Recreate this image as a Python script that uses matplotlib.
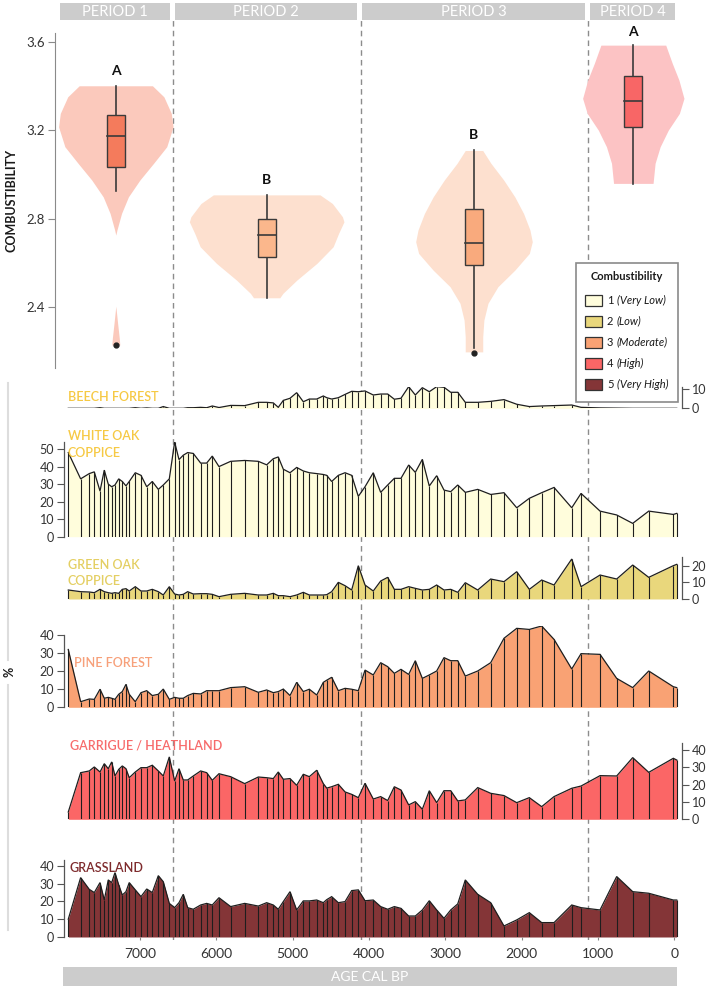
import matplotlib.pyplot as plt
from matplotlib.patches import Rectangle
import numpy as np

W, H = 709, 988
plt.rcParams['font.family'] = ['Lato', 'DejaVu Sans']

# sample ages (cal BP), shared by all pollen groups
ages = [7941, 7779, 7666, 7600, 7525, 7469, 7417, 7372, 7329, 7280, 7233, 7185, 7142, 7063,
        6988, 6913, 6840, 6761, 6696, 6617, 6547, 6490, 6434, 6376, 6303, 6206, 6127, 6054,
        5966, 5813, 5629, 5451, 5341, 5254, 5189, 5123, 5035, 4948, 4861, 4782, 4685, 4599,
        4554, 4489, 4402, 4314, 4227, 4140, 4052, 3944, 3847, 3755, 3668, 3581, 3480, 3393,
        3301, 3210, 3113, 3017, 2929, 2837, 2738, 2575, 2405, 2231, 2064, 1899, 1737, 1575,
        1343, 1221, 972, 754, 544, 334, 12, -33]

beech = [0, 0, 0, 0, 0.3, 0, 0, 0, 0, 0, 0, 0, 0, 0.3, 0, 0.2, 0, 0, 0.9, 0, 0, 0, 0, 0.3,
         0.3, 0.5, 0.3, 1.2, 0.4, 1.5, 1.4, 3.1, 3.1, 2.8, 0.5, 4.1, 5.2, 8.1, 3.4, 4.8, 4.8,
         6.4, 5.5, 4.8, 5.5, 7.2, 8.8, 8.6, 9.0, 6.9, 7.4, 7.4, 4.7, 5.2, 11.2, 6.9, 10.7, 8.6,
         11.2, 10.9, 8.3, 8.3, 3.1, 3.1, 3.6, 4.5, 2.1, 0.9, 1.2, 1.4, 1.7, 0.5, 0.2, 0.1, 0,
         0, 0, 0]

white_oak = [48, 33, 36, 37, 26, 38, 30, 28.5, 29.5, 33, 31.5, 29, 31.5, 36.5, 35, 28.5, 31.5,
             27, 29.5, 33, 54, 44, 46.5, 48, 47.5, 42, 42, 46, 40, 43, 43.5, 43, 41, 44.5, 45.5,
             38.5, 36.5, 39.5, 37.5, 36.5, 36, 35.5, 35, 31.5, 35, 36.5, 35, 23, 28.5, 36.5,
             25.3, 29.5, 33.3, 33.3, 40.9, 36.7, 44.1, 28.9, 34.8, 26.6, 25.7, 29.5, 25.3, 27,
             24.1, 25.1, 16.5, 21.9, 25.1, 28.1, 16.5, 24.7, 14.6, 12.4, 7.6, 14.6, 12.7, 13.3]

green_oak = [5.4, 4.4, 4.2, 3.8, 5.8, 4.4, 3.8, 3.4, 3.8, 3.4, 5.8, 6.2, 4.8, 7.4, 4.8, 4.8,
             5.8, 4.4, 2.4, 7.4, 3.0, 2.4, 2.8, 4.4, 3.0, 3.2, 3.2, 2.8, 1.4, 2.8, 3.4, 2.4, 2.4,
             3.4, 2.0, 2.0, 1.4, 2.4, 4.0, 2.4, 2.4, 2.4, 2.6, 4.4, 10, 8, 5.4, 20, 8.4, 4.8,
             10.8, 13, 5.8, 5.8, 7.4, 6.4, 5.4, 5.8, 8.4, 5.4, 5.8, 4.0, 9.8, 5.4, 12, 10.4, 16.4,
             5.8, 11.4, 8.4, 24, 7.4, 14.4, 12, 20.4, 13, 20, 20.8]

pine = [32, 3.1, 4.6, 4.4, 10, 5, 5.5, 5, 4.4, 7.2, 8.7, 12.7, 7.2, 3.1, 8.1, 9.2, 6.5, 7.2,
        10.1, 4.4, 5.5, 5, 5, 6.5, 7.7, 7.4, 9.2, 9.2, 9.2, 10.9, 11.4, 8.3, 9.6, 8.1, 8.7,
        10.1, 6.5, 13.8, 8.7, 10, 6.8, 13.8, 15, 16.6, 9.2, 10.5, 10, 9.2, 20.6, 17.9, 24.7,
        22.5, 18.8, 21, 18.2, 25.8, 16, 17.9, 20.1, 27.5, 25.8, 25.8, 17.3, 20.1, 24.7, 38.2,
        43.7, 43.1, 45, 37.6, 21.2, 29.7, 29.3, 16, 10.9, 20.1, 11.4, 10.9]

garrigue = [4.2, 26.9, 27.9, 30.2, 27.3, 32.1, 29.2, 33.1, 25, 28.8, 30.8, 29.2, 24, 27.3,
            29.8, 29.8, 31.2, 27.9, 25, 36, 22.1, 29.2, 22.7, 22.7, 25, 27.9, 26.9, 22.5, 26.3,
            24.6, 20.6, 24.4, 24, 23.5, 27.3, 23.1, 23.5, 19.6, 26, 24.6, 28.3, 20.6, 18, 18.8,
            20.2, 15.8, 14.4, 12.5, 20.8, 11.7, 13.1, 10.8, 18.8, 16.9, 8.3, 10.2, 5.8, 16.5,
            9.6, 16.5, 16.5, 10.6, 11.2, 18.3, 15, 13.7, 9.6, 12.5, 7.3, 13.1, 17.9, 19.2, 25.2,
            25, 35.6, 27.1, 35.2, 34.2]

grassland = [10, 33.4, 26.8, 25, 30.6, 20.8, 32.1, 30.6, 36.2, 29.3, 23.6, 25.5, 30.6, 26.5,
             22.7, 27, 25, 34.5, 31.1, 18.9, 16.5, 19.3, 24, 16.5, 15.6, 18, 18.9, 18, 22.1,
             17.1, 18.9, 17.4, 19.3, 18, 15.6, 19.9, 25.5, 15.2, 20.3, 20.3, 20.8, 19.3, 21,
             22.7, 19.3, 19.9, 26.1, 26.5, 20.4, 20.8, 17.1, 15.6, 17.1, 16.1, 11.8, 11.8, 15.2,
             20.4, 15.2, 10.5, 15.2, 18.6, 32.1, 24, 19.3, 6.2, 9.6, 13.7, 8.1, 8.1, 18, 16.5,
             15.2, 34, 25.5, 24.6, 20.8, 20.8]

period_names = ['PERIOD 1', 'PERIOD 2', 'PERIOD 3', 'PERIOD 4']
period_bounds = [6565, 4105, 1136]

# violin profiles: combustibility value and relative width
violin_centers = [7318, 5341, 2624, 536]
violin_letters = ['A', 'B', 'B', 'A']
letter_y = [3.47, 2.977, 3.177, 3.647]
v1_y = [3.402, 3.352, 3.277, 3.216, 3.126, 3.051, 2.975, 2.899, 2.824, 2.749, 2.726]
v1_w = [0.64, 0.84, 0.97, 1.0, 0.89, 0.66, 0.42, 0.22, 0.10, 0.02, 0.0]
v1b_y = [2.404, 2.33, 2.26, 2.228]
v1b_w = [0.0, 0.03, 0.06, 0.07]
v2_y = [2.908, 2.869, 2.809, 2.786, 2.733, 2.673, 2.598, 2.522, 2.462, 2.442]
v2_w = [0.69, 0.85, 0.98, 1.0, 0.93, 0.86, 0.65, 0.39, 0.21, 0.17]
v3_y = [3.109, 3.051, 2.975, 2.899, 2.824, 2.749, 2.696, 2.643, 2.567, 2.492, 2.417, 2.341,
        2.265, 2.197]
v3_w = [0.15, 0.29, 0.51, 0.70, 0.85, 0.96, 1.0, 0.95, 0.70, 0.41, 0.24, 0.17, 0.15, 0.15]
v4_y = [3.586, 3.503, 3.428, 3.345, 3.277, 3.201, 3.126, 3.051, 2.960]
v4_w = [0.64, 0.77, 0.90, 1.0, 0.91, 0.69, 0.53, 0.43, 0.39]

# q1, median, q3, whisker low, whisker high
box_stats = [(3.036, 3.174, 3.27, 2.924, 3.40),
             (2.628, 2.727, 2.80, 2.44, 2.908),
             (2.59, 2.692, 2.844, 2.215, 3.109),
             (3.215, 3.332, 3.447, 2.957, 3.586)]
outliers = [[2.226], [], [2.192], []]

legend_levels = ['1', '2', '3', '4', '5']
legend_names = ['(Very Low)', '(Low)', '(Moderate)', '(High)', '(Very High)']
legend_colors = ['#FFFDDC', '#E9D77C', '#F9A274', '#FB6666', '#843537']


def add_ax(x0, y0, x1, y1, **kw):
    return fig.add_axes([x0 / W, 1 - y1 / H, (x1 - x0) / W, (y1 - y0) / H], **kw)


fig = plt.figure(figsize=(W / 100, H / 100), dpi=100)

# dashed period boundaries, behind everything
dash_ax = add_ax(64, 20, 682, 940, zorder=0)
dash_ax.set_xlim(7997, -102)
dash_ax.set_ylim(0, 1)
dash_ax.axis('off')
for b in period_bounds:
    dash_ax.axvline(b, color='#8c8c8c', lw=1, dashes=(4, 3))

# violins
vax = add_ax(55, 33, 690, 368, zorder=1)
vax.patch.set_alpha(0)
vax.set_xlim(8115, -207)
vax.set_ylim(2.124, 3.641)
violin_fill = ['#FBC9BC', '#FDE0CF', '#FDE0CF', '#FCC3C4']
box_fill = ['#F47B5C', '#FBB78C', '#F9AA7D', '#F86666']
max_w = [750, 1013, 764, 664]
profiles = [[(v1_y, v1_w), (v1b_y, v1b_w)], [(v2_y, v2_w)], [(v3_y, v3_w)], [(v4_y, v4_w)]]
box_half = 118
for i, c in enumerate(violin_centers):
    for py, pw in profiles[i]:
        py = np.array(py)
        pw = np.array(pw) * max_w[i]
        vax.fill_betweenx(py, c - pw, c + pw, color=violin_fill[i], lw=0, zorder=1)
    q1, med, q3, lo, hi = box_stats[i]
    vax.plot([c, c], [lo, q1], color='#3a3a3a', lw=1.2, zorder=2)
    vax.plot([c, c], [q3, hi], color='#3a3a3a', lw=1.2, zorder=2)
    vax.add_patch(Rectangle((c - box_half, q1), 2 * box_half, q3 - q1, facecolor=box_fill[i],
                            edgecolor='#3a3a3a', lw=1, zorder=3))
    vax.plot([c - box_half, c + box_half], [med, med], color='#3a3a3a', lw=1.2, zorder=4)
    for o in outliers[i]:
        vax.plot(c, o, marker='o', ms=3.5, color='#222222', zorder=4)
    vax.text(c, letter_y[i], violin_letters[i], ha='center', va='center', fontsize=10,
             fontweight='bold', color='#111111', clip_on=False)
for s in ['top', 'right', 'bottom']:
    vax.spines[s].set_visible(False)
vax.spines['left'].set_color('#8a8a8a')
vax.set_xticks([])
vax.set_yticks([2.4, 2.8, 3.2, 3.6])
vax.set_yticklabels(['2.4', '2.8', '3.2', '3.6'])
vax.tick_params(axis='y', length=5, color='#8a8a8a', labelsize=9.5, labelcolor='#333333', pad=2)

# pollen groups: name, values, fill, label colour, top px, base px, ymax, side, ticks
panels = [
    ('BEECH FOREST', beech, '#FFFDDC', '#F6C944', 386.7, 408.3, 11.2, 'right', [0, 10], None),
    ('WHITE OAK\nCOPPICE', white_oak, '#FFFDDC', '#F6C944', 441.7, 536.7, 54.2, 'left',
     [0, 10, 20, 30, 40, 50], None),
    ('GREEN OAK\nCOPPICE', green_oak, '#E9D77C', '#E4CF63', 556.7, 599, 25.4, 'right',
     [0, 10, 20], None),
    ('PINE FOREST', pine, '#F9A274', '#F7A07A', 626, 707.3, 45, 'left', [0, 10, 20, 30, 40], 40),
    ('GARRIGUE / HEATHLAND', garrigue, '#FB6666', '#F76B6B', 742.7, 819.3, 44.2, 'right',
     [0, 10, 20, 30, 40], None),
    ('GRASSLAND', grassland, '#843537', '#7E2B2D', 860, 937, 43.3, 'left', [0, 10, 20, 30, 40],
     None),
]
label_pos = [(68, 396.7), (68, 444.7), (68, 573), (74, 663), (70, 746), (70, 868)]

for k, (name, vals, fc, lc, top, base, ymax, side, ticks, sbound) in enumerate(panels):
    ax = add_ax(64, top, 682, base, zorder=1)
    ax.patch.set_alpha(0)
    ax.set_xlim(7997, -102)
    ax.set_ylim(0, ymax)
    ax.fill_between(ages, vals, 0, color=fc, lw=0, zorder=1)
    ax.vlines(ages, 0, vals, color='#1e1e1e', lw=0.8, zorder=2)
    ax.plot(ages, vals, color='#1e1e1e', lw=0.9, zorder=3, solid_joinstyle='miter')
    for s in ['top', 'bottom', 'left', 'right']:
        ax.spines[s].set_visible(False)
    ax.spines[side].set_visible(True)
    ax.spines[side].set_color('#555555')
    ax.spines[side].set_linewidth(0.9)
    if sbound is not None:
        ax.spines[side].set_bounds(0, sbound)
    ax.yaxis.set_ticks_position(side)
    ax.set_yticks(ticks)
    ax.set_yticklabels([str(t) for t in ticks])
    ax.tick_params(axis='y', length=5, color='#555555', labelsize=9, labelcolor='#333333', pad=2)
    if k == len(panels) - 1:
        ax.set_xticks([7000, 6000, 5000, 4000, 3000, 2000, 1000, 0])
        ax.set_xticklabels(['7000', '6000', '5000', '4000', '3000', '2000', '1000', '0'])
        ax.tick_params(axis='x', length=2, color='#888888', labelsize=10, labelcolor='#333333',
                       pad=6)
    else:
        ax.set_xticks([])
    lx, ly = label_pos[k]
    fig.text(lx / W, 1 - ly / H, name, color=lc, fontsize=9, fontweight='semibold',
             ha='left', va='center', linespacing=1.45, zorder=5)

# annotation layer in pixel coordinates
ann = add_ax(0, 0, W, H, zorder=3)
ann.set_xlim(0, W)
ann.set_ylim(H, 0)
ann.axis('off')

header_x = [(60, 170), (175, 357), (362, 585), (590, 675)]
for (x0, x1), name in zip(header_x, period_names):
    ann.add_patch(Rectangle((x0, 3), x1 - x0, 17, color='#CCCCCC', lw=0))
    ann.text((x0 + x1) / 2, 11.5, name, color='white', fontsize=10.5, ha='center', va='center')

ann.add_patch(Rectangle((63, 967), 614, 19, color='#CCCCCC', lw=0))
ann.text(370, 976.5, 'AGE CAL BP', color='white', fontsize=10, ha='center', va='center')

ann.text(12, 200, 'COMBUSTIBILITY', rotation=90, fontsize=9, fontweight='bold',
         color='#1a1a1a', ha='center', va='center')
ann.plot([8, 8], [383, 660], color='#DDDDDD', lw=1.5)
ann.plot([8, 8], [685, 930], color='#DDDDDD', lw=1.5)
ann.text(9, 672, '%', rotation=90, fontsize=9, fontweight='bold', color='#1a1a1a',
         ha='center', va='center')

# legend
ann.add_patch(Rectangle((576, 263), 102, 139, facecolor='white', edgecolor='#8a8a8a', lw=1.2))
ann.text(627, 276, 'Combustibility', fontsize=8, fontweight='bold', color='#1a1a1a',
         ha='center', va='center')
for j, (lev, nm, col) in enumerate(zip(legend_levels, legend_names, legend_colors)):
    yy = 300 + 21 * j
    ann.add_patch(Rectangle((585, yy - 5.5), 17, 11, facecolor=col, edgecolor='#333333', lw=0.9))
    ann.text(607, yy, lev, fontsize=8, color='#1a1a1a', ha='left', va='center')
    ann.text(617, yy, nm, fontsize=8, fontstyle='italic', color='#1a1a1a', ha='left',
             va='center')

fig.savefig('out.png', dpi=100)
